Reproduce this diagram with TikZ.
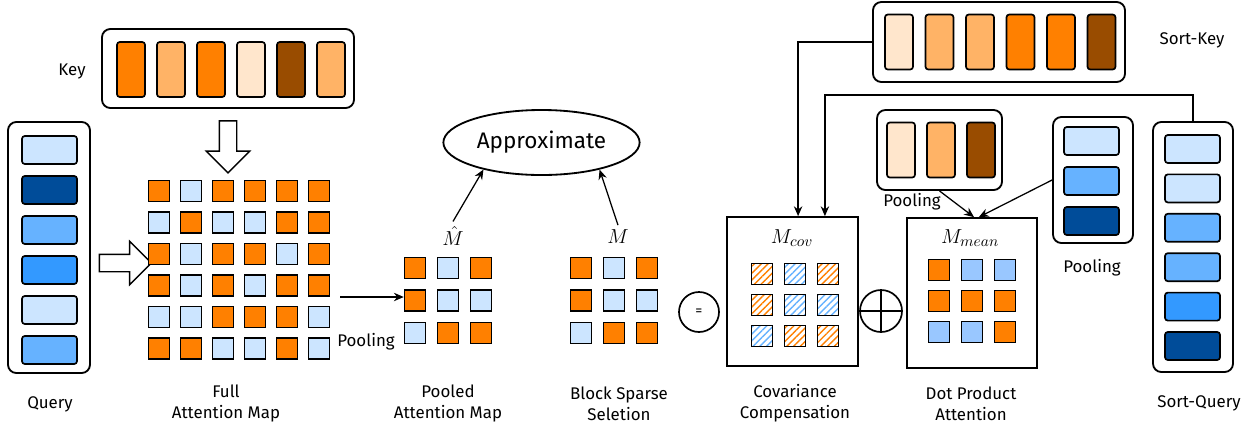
\documentclass[tikz,border=0pt]{standalone}
\usepackage{fontspec}
\setmainfont{Fira Sans}
\usepackage{amsmath}
\usetikzlibrary{positioning,shapes.geometric,shapes.arrows,arrows.meta,patterns.meta}
\definecolor{ko}{RGB}{255,128,0}
\definecolor{kp}{RGB}{255,179,102}
\definecolor{kc}{RGB}{255,230,204}
\definecolor{kb}{RGB}{153,76,0}
\definecolor{ql}{RGB}{204,229,255}
\definecolor{qm}{RGB}{102,178,255}
\definecolor{qb}{RGB}{51,153,255}
\definecolor{qd}{RGB}{0,76,153}
\definecolor{qs}{RGB}{153,199,255}

\begin{document}
\begin{tikzpicture}[x=0.025cm,y=-0.025cm,
    outer/.style={draw, line width=1.3pt, rounded corners=6pt, inner sep=0pt},
    kbar/.style={draw, line width=1.2pt, rounded corners=2pt, inner sep=0pt, minimum width=0.7cm, minimum height=1.375cm},
    qbar/.style={draw, line width=1.2pt, rounded corners=2pt, inner sep=0pt, minimum width=1.375cm, minimum height=0.7cm},
    cell/.style={draw, line width=1.2pt, inner sep=0pt, minimum size=0.52cm},
    hatch/.style={cell, pattern={Lines[angle=45,distance=3.4pt,line width=1pt]}, pattern color=#1},
    panel/.style={draw, line width=1.2pt, inner sep=0pt},
    lab/.style={font=\fontsize{12}{15}\selectfont, align=center},
    mathlab/.style={font=\fontsize{15}{18}\selectfont},
    arr/.style={-{Stealth[length=7pt,width=6pt]}, line width=0.9pt},
    hollow/.style={single arrow, draw, line width=1pt, fill=white, inner xsep=0pt, inner ysep=0.2cm,
      single arrow head extend=0.325cm, minimum height=1.3cm}]
  \useasboundingbox (0,0) rectangle (1256,430);

  % Key
  \node[outer, minimum width=6.3cm, minimum height=1.975cm] (key) at (228,68.5) {};
  \foreach \c [count=\i from 0] in {ko,kp,ko,kc,kb,kp}
    \node[kbar, fill=\c] (key-\i) at (131+40*\i,69.5) {};
  \node[lab] (keylab) at (72,71) {Key};
  \node[hollow, rotate=-90] (downarr) at (228,142.5) {};

  % Query
  \node[outer, minimum width=2.05cm, minimum height=6.275cm] (query) at (49,247.5) {};
  \foreach \c [count=\i from 0] in {ql,qd,qm,qb,ql,qm}
    \node[qbar, fill=\c] (query-\i) at (49.5,150+40*\i) {};
  \node[lab] (querylab) at (50,404) {Query};
  \node[hollow] (rightarr) at (121,263) {};

  % Full attention map
  \foreach \row [count=\j from 0] in {{ko,ql,ko,ko,ko,ko},{ql,ko,ql,ql,ko,ko},{ko,ql,ko,ko,ql,ko},
      {ko,ql,ko,ql,ko,ko},{ql,ql,ko,ko,ko,ql},{ko,ko,ql,ql,ko,ql}}
    \foreach \c [count=\i from 0] in \row
      \node[cell, fill=\c] (full-\j-\i) at (159+32*\i,191+31.5*\j) {};
  \node[lab] (fulllab) at (226,403.5) {Full\\Attention Map};

  % Pooling
  \coordinate (poolstart) at (340,297);
  \node[lab] (poollab) at (366,342) {Pooling};

  % Pooled attention map
  \foreach \row [count=\j from 0] in {{ko,ql,ko},{ko,ql,ql},{ql,ko,ko}}
    \foreach \c [count=\i from 0] in \row
      \node[cell, fill=\c] (pooled-\j-\i) at (415+33*\i,268+32.5*\j) {};
  \node[mathlab] (mhat) at (453,236) {$\hat{M}$};
  \node[lab] (pooledlab) at (448,403.5) {Pooled\\Attention Map};
  \draw[arr] (poolstart) -- (poolstart -| pooled-1-0.west);

  % Block sparse selection
  \foreach \row [count=\j from 0] in {{ko,ql,ko},{ko,ql,ql},{ql,ko,ko}}
    \foreach \c [count=\i from 0] in \row
      \node[cell, fill=\c] (sparse-\j-\i) at (581+33*\i,268+32.5*\j) {};
  \node[mathlab] (mlab) at (618,237) {$M$};
  \node[lab] (sparselab) at (619,403.5) {Block Sparse\\Seletion};

  % Approximate
  \node[draw, ellipse, line width=1.3pt, minimum width=3.925cm, minimum height=1.625cm,
    font=\fontsize{16}{18}\selectfont] (approx) at (541.5,142.5) {Approximate};
  \draw[arr] (mhat.north) -- (approx.-155);
  \draw[arr] (mlab.north) -- (approx.-25);

  % Equal sign
  \node[draw, circle, line width=1.2pt, minimum size=1cm, inner sep=0pt] (eq) at (699,312) {=};

  % Covariance compensation
  \node[panel, minimum width=3.275cm, minimum height=3.725cm] (cov) at (792.5,291.5) {};
  \node[mathlab] (mcov) at (792,238) {$M_{cov}$};
  \foreach \row [count=\j from 0] in {{ko,qm,ko},{ko,qm,qm},{qm,ko,ko}}
    \foreach \c [count=\i from 0] in \row
      \node[hatch=\c] (cov-\j-\i) at (762+33*\i,274+31*\j) {};
  \node[lab] (covlab) at (795,403.5) {Covariance\\Compensation};

  % Plus
  \node[draw, circle, line width=1.2pt, minimum size=1.05cm, inner sep=0pt] (plus) at (881,311) {};
  \draw[line width=1pt] (plus.north) -- (plus.south) (plus.west) -- (plus.east);

  % Dot product attention
  \node[panel, minimum width=3.25cm, minimum height=3.75cm] (dot) at (972,293) {};
  \node[mathlab] (mmean) at (970,238) {$M_{mean}$};
  \foreach \row [count=\j from 0] in {{ko,qs,qs},{ko,ko,ko},{qs,qs,ko}}
    \foreach \c [count=\i from 0] in \row
      \node[cell, fill=\c] (dot-\j-\i) at (939+33*\i,270+31*\j) {};
  \node[lab] (dotlab) at (971,403.5) {Dot Product\\Attention};

  % Sort-Key
  \node[outer, minimum width=6.3cm, minimum height=2cm] (sortkey) at (999,42) {};
  \foreach \c [count=\i from 0] in {kc,kp,kp,ko,ko,kb}
    \node[kbar, fill=\c] (sortkey-\i) at (899+40.5*\i,42) {};
  \node[lab] (sortkeylab) at (1192,40) {Sort-Key};

  % Pooled key
  \node[outer, minimum width=3.125cm, minimum height=2cm] (keypool) at (939.5,150) {};
  \foreach \c [count=\i from 0] in {kc,kp,kb}
    \node[kbar, fill=\c] (keypool-\i) at (901+40*\i,150) {};
  \node[lab] (keypoollab) at (912,202) {Pooling};

  % Pooled query
  \node[outer, minimum width=2cm, minimum height=3.15cm] (qpool) at (1093,180) {};
  \foreach \c [count=\i from 0] in {ql,qm,qd}
    \node[qbar, fill=\c] (qpool-\i) at (1091.5,141+40*\i) {};
  \node[lab] (qpoollab) at (1092,268) {Pooling};

  % Sort-Query
  \node[outer, minimum width=2cm, minimum height=6.25cm] (sortq) at (1193,247) {};
  \foreach \c [count=\i from 0] in {ql,ql,qm,qm,qb,qd}
    \node[qbar, fill=\c] (sortq-\i) at (1192.5,149+39.4*\i) {};
  \node[lab] (sortqlab) at (1199,403) {Sort-Query};

  % Connections
  \draw[arr] (sortkey.west) -| ([xshift=0.14cm]cov.north);
  \draw[arr] (sortq.north) -- ++(0,-26) -| ([xshift=0.81cm]cov.north);
  \draw[arr] (keypool.south) -- ([xshift=0.05cm]dot.north);
  \draw[arr] (qpool.west) -- ([xshift=0.17cm]dot.north);
\end{tikzpicture}
\end{document}
